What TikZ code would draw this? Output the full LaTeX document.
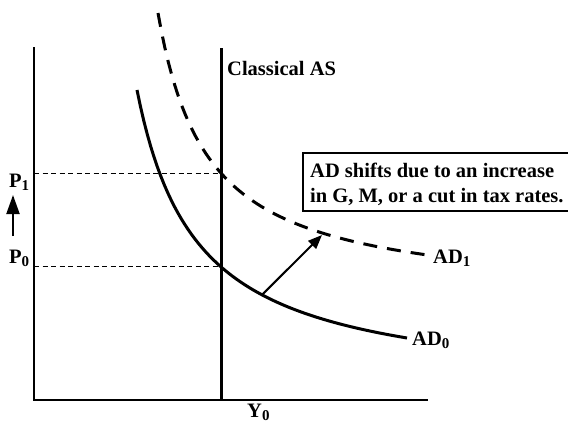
\documentclass[tikz,border=0pt]{standalone}
\usepackage{fontspec}
\setmainfont{Liberation Serif}
\usetikzlibrary{arrows.meta}

\newcommand{\lblsub}[2]{#1\raisebox{-0.35ex}{\fontsize{15}{15}\selectfont #2}}

\begin{document}
\begin{tikzpicture}[x=1pt, y=-1pt,
    lbl/.style={anchor=base west, inner sep=0pt, font=\fontsize{20.5}{25}\selectfont\bfseries},
    axis/.style={line width=2pt},
    guide/.style={line width=1pt, dash pattern=on 5pt off 3.5pt},
    curve/.style={line width=3pt}]

    \useasboundingbox (0,0) rectangle (568,424);

    % Parameters of the two demand curves (y = B - k/(x - A)), k in hundreds
    \pgfmathsetmacro{\Azero}{77.1}
    \pgfmathsetmacro{\Bzero}{393}
    \pgfmathsetmacro{\Kzero}{181.51}
    \pgfmathsetmacro{\Aone}{108.2}
    \pgfmathsetmacro{\Bone}{299.7}
    \pgfmathsetmacro{\Kone}{142.78}

    % --- 1. Axes ---
    \coordinate (O) at (34,400);
    \coordinate (Ytop) at (34,47);
    \coordinate (Xend) at (428,400);
    \draw[axis] (Ytop) -- (O) -- (Xend);

    % --- 2. Classical AS ---
    \coordinate (ASbot) at (221,400);
    \coordinate (AStop) at (221,48);
    \draw[curve] (ASbot) -- (AStop);
    \node[lbl] (AS) at (227,75) {Classical AS};

    % --- 3. Price levels ---
    \coordinate (P0a) at (34,266);
    \coordinate (P0b) at (221,266);
    \coordinate (P1a) at (34,173);
    \coordinate (P1b) at (221,173);
    \draw[guide] (P0a) -- (P0b);
    \draw[guide] (P1a) -- (P1b);
    \node[lbl] (P0) at (9,263) {\lblsub{P}{0}};
    \node[lbl] (P1) at (9,187) {\lblsub{P}{1}};
    \coordinate (Ua) at (13,236);
    \coordinate (Ub) at (13,195);
    \draw[line width=2pt, -{Triangle[length=19pt, width=13pt]}] (Ua) -- (Ub);
    \node[lbl] (Y0) at (247,417) {\lblsub{Y}{0}};

    % --- 4. AD curves ---
    \draw[curve] plot[domain=137:407, samples=80] (\x, {\Bzero - \Kzero/((\x - \Azero)/100)});
    \draw[curve, dash pattern=on 14pt off 10pt] plot[domain=158:427, samples=80] (\x, {\Bone - \Kone/((\x - \Aone)/100)});
    \node[lbl] (AD0) at (412,345) {\lblsub{AD}{0}};
    \node[lbl] (AD1) at (433,263) {\lblsub{AD}{1}};

    % --- 5. Shift arrow ---
    \coordinate (S) at (262,{\Bzero - \Kzero/((262 - \Azero)/100)});
    \coordinate (T) at (322,235);
    \draw[line width=2pt, -{Triangle[length=14pt, width=11pt]}] (S) -- (T);

    % --- 6. Note box ---
    \draw[line width=2pt] (575,153) -| (303,211) -- (575,211);
    \node[lbl] (note) at (310,177) {AD shifts due to an increase};
    \node[lbl] (note2) at (310,202) {in G, M, or a cut in tax rates.};

\end{tikzpicture}
\end{document}
